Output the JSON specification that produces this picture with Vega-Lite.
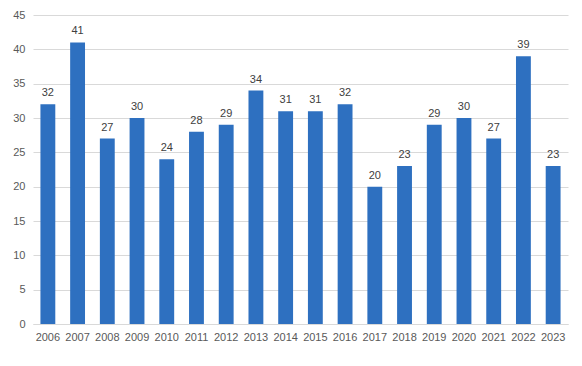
{
  "$schema": "https://vega.github.io/schema/vega-lite/v6.json",
  "width": 535,
  "height": 309,
  "autosize": {"type": "none"},
  "padding": {"left": 33, "top": 15, "right": 14, "bottom": 42},
  "background": "white",
  "config": {
    "view": {"stroke": null},
    "font": "Liberation Sans",
    "axis": {"labelFont": "Liberation Sans", "labelFontSize": 11, "labelColor": "#595959", "ticks": false, "title": null}
  },
  "data": {"values": [
    {"year": "2006", "value": 32}, {"year": "2007", "value": 41}, {"year": "2008", "value": 27},
    {"year": "2009", "value": 30}, {"year": "2010", "value": 24}, {"year": "2011", "value": 28},
    {"year": "2012", "value": 29}, {"year": "2013", "value": 34}, {"year": "2014", "value": 31},
    {"year": "2015", "value": 31}, {"year": "2016", "value": 32}, {"year": "2017", "value": 20},
    {"year": "2018", "value": 23}, {"year": "2019", "value": 29}, {"year": "2020", "value": 30},
    {"year": "2021", "value": 27}, {"year": "2022", "value": 39}, {"year": "2023", "value": 23}
  ]},
  "encoding": {
    "x": {"field": "year", "type": "ordinal", "scale": {"paddingInner": 0.5, "paddingOuter": 0.25},
          "axis": {"labelAngle": 0, "labelPadding": 7, "domainColor": "#D9D9D9", "grid": false}},
    "y": {"field": "value", "type": "quantitative", "scale": {"domain": [0, 45], "nice": false},
          "axis": {"values": [0,5,10,15,20,25,30,35,40,45], "domain": false, "gridColor": "#D9D9D9", "labelPadding": 8}}
  },
  "layer": [
    {"mark": {"type": "bar", "color": "#2E70C0"}},
    {"mark": {"type": "text", "baseline": "bottom", "dy": -6, "fontSize": 11, "color": "#404040", "font": "Liberation Sans"},
     "encoding": {"text": {"field": "value", "type": "quantitative"}}}
  ]
}
